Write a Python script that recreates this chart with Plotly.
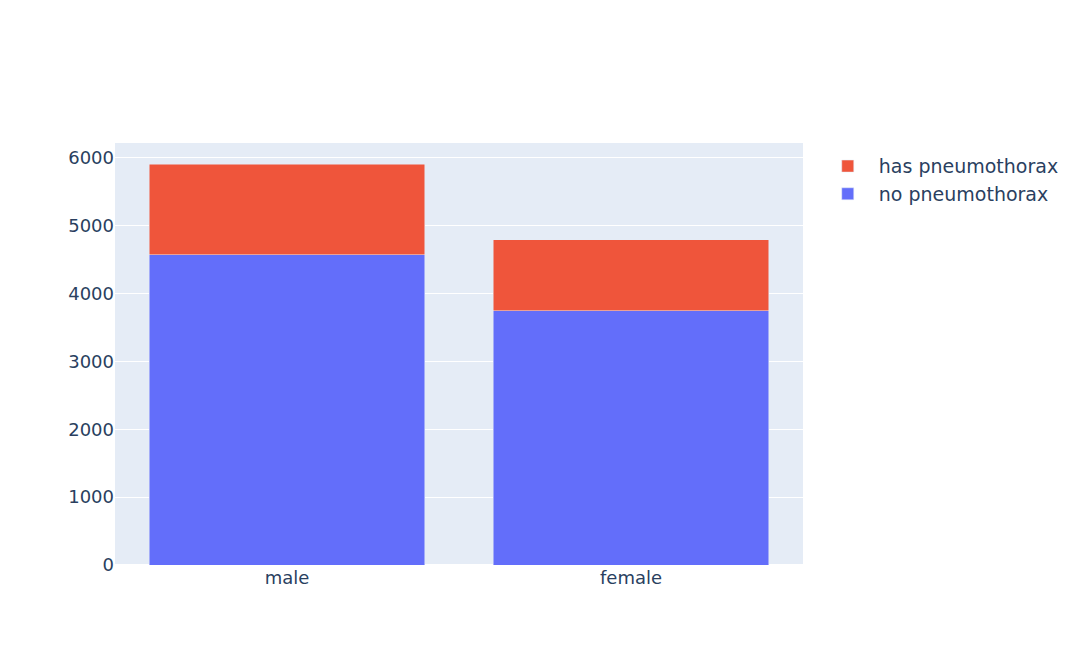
import plotly.graph_objects as go

sex = ["male", "female"]
no_ptx = [4575, 3750]
has_ptx = [1335, 1045]

fig = go.Figure()
fig.add_trace(go.Bar(x=sex, y=no_ptx, name="no pneumothorax"))
fig.add_trace(go.Bar(x=sex, y=has_ptx, name="has pneumothorax"))

fig.update_layout(
    barmode="stack",
    width=1080,
    height=669,
    template="plotly",
    font=dict(family="DejaVu Sans", size=18),
    margin=dict(l=107, r=285, t=135, b=112),
    legend=dict(font=dict(size=19), itemwidth=52, y=0.99),
)
fig.write_html("out.html")
